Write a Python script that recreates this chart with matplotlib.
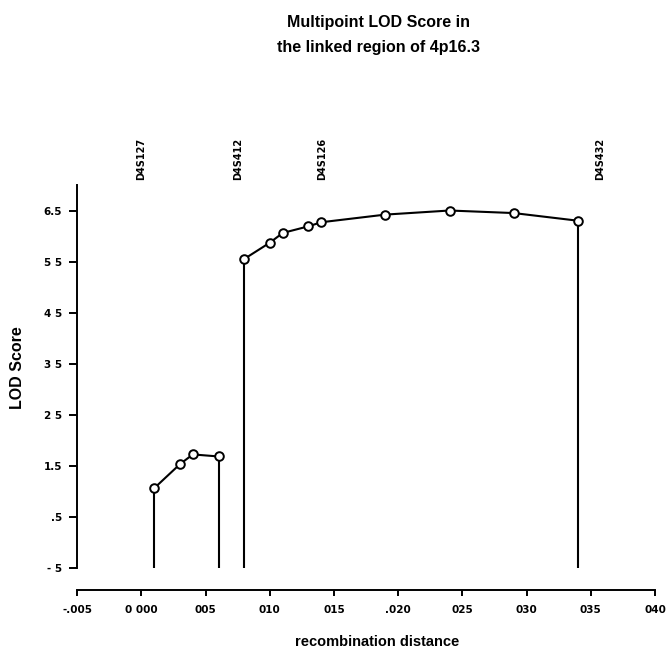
import matplotlib
matplotlib.use("Agg")
import matplotlib.pyplot as plt

plt.rcParams['font.family'] = ['Liberation Sans', 'DejaVu Sans']
plt.rcParams['font.weight'] = 'bold'

# data
x_group1 = [0.001, 0.003, 0.004, 0.006]
lod_group1 = [1.06, 1.53, 1.72, 1.68]
x_group2 = [0.008, 0.010, 0.011, 0.013, 0.014, 0.019, 0.024, 0.029, 0.034]
lod_group2 = [5.55, 5.87, 6.06, 6.19, 6.27, 6.42, 6.50, 6.45, 6.30]
drop_x = [0.001, 0.006, 0.008, 0.034]
drop_y = [1.06, 1.68, 5.55, 6.30]
marker_names = ["D4S127", "D4S412", "D4S126", "D4S432"]
marker_pos = [0.0, 0.0075, 0.0141, 0.0357]
xticks = [-0.005, 0.0, 0.005, 0.010, 0.015, 0.020, 0.025, 0.030, 0.035, 0.040]
xtick_labels = ["-.005", "0 000", "005", "010", "015", ".020", "025", "030", "035", "040"]
yticks = [-0.5, 0.5, 1.5, 2.5, 3.5, 4.5, 5.5, 6.5]
ytick_labels = ["- 5", ".5", "1.5", "2 5", "3 5", "4 5", "5 5", "6.5"]

W, H = 670, 659
fig = plt.figure(figsize=(W / 100, H / 100), dpi=100)
left, right = 77.3, 655.0
top, bottom = 185.0, 590.0
ax = fig.add_axes([left / W, (H - bottom) / H, (right - left) / W, (bottom - top) / H])

ax.set_xlim(-0.005, 0.040)
ax.set_ylim(-0.937, 7.0)

lw = 1.5
for xs, ys in [(x_group1, lod_group1), (x_group2, lod_group2)]:
    ax.plot(xs, ys, color='black', lw=lw, marker='o', markersize=6.2,
            markerfacecolor='white', markeredgecolor='black', markeredgewidth=1.4,
            zorder=3, clip_on=False)
ax.vlines(drop_x, -0.5, drop_y, color='black', lw=lw, zorder=2)

for name, pos in zip(marker_names, marker_pos):
    ax.text(pos, 7.10, name, rotation=90, ha='center', va='bottom',
            fontsize=7, fontweight='bold', family='DejaVu Sans', clip_on=False)

ax.spines['top'].set_visible(False)
ax.spines['right'].set_visible(False)
ax.spines['left'].set_bounds(-0.5, 7.0)
ax.spines['left'].set_linewidth(1.4)
ax.spines['bottom'].set_linewidth(1.4)

ax.set_xticks(xticks)
ax.set_xticklabels(xtick_labels, fontsize=7.5, fontweight='bold', family='DejaVu Sans')
ax.set_yticks(yticks)
ax.set_yticklabels(ytick_labels, fontsize=7.5, fontweight='bold', family='DejaVu Sans')
ax.tick_params(axis='x', direction='out', length=4, width=1.4, pad=7)
ax.tick_params(axis='y', direction='out', length=6, width=1.4, pad=5)

fig.text(18 / W, 1 - 368 / H, "LOD Score", rotation=90, ha='center', va='center',
         fontsize=11.5, fontweight='bold')
fig.text(377 / W, 1 - 642 / H, "recombination distance", ha='center', va='center',
         fontsize=10.5, fontweight='bold')
fig.text(378 / W, 1 - 35 / H, "Multipoint LOD Score in\nthe linked region of 4p16.3",
         ha='center', va='center', fontsize=11.5, fontweight='bold', linespacing=1.9)

fig.savefig("out.png", dpi=100)
